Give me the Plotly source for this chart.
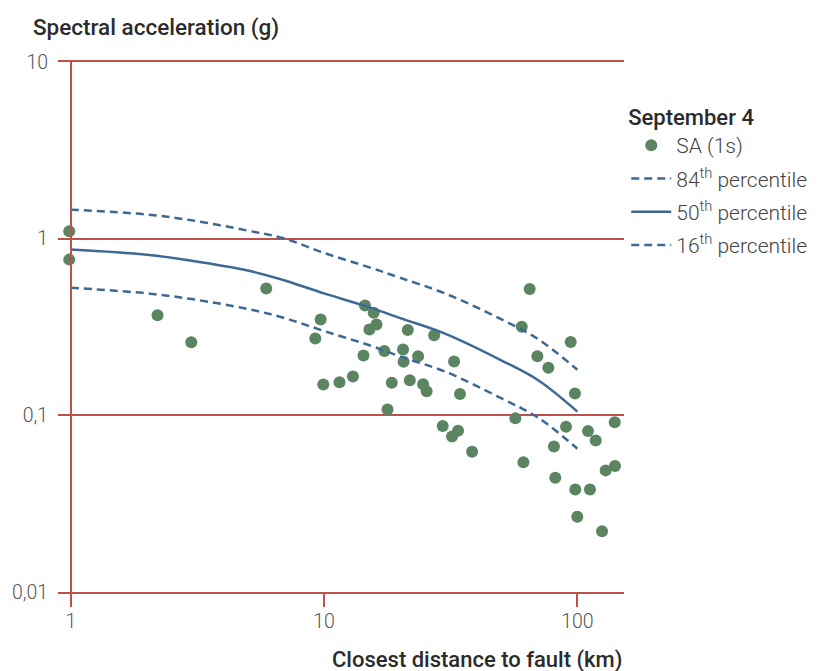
import plotly.graph_objects as go

# ---- data ----
obs_dist = [0.986, 0.986, 2.20, 2.99, 5.91,
            14.5, 15.7, 9.69, 16.1, 15.1, 9.23, 21.4, 27.2, 14.3, 17.3, 20.5, 20.6, 23.5, 32.6,
            9.93, 11.5, 13.0, 18.5, 21.8, 24.6, 25.4, 34.4, 17.8, 29.4, 33.8, 32.0, 38.4,
            64.8, 60.3, 94.1, 69.5, 76.8, 97.8, 56.9, 90.2, 110.1, 118.1, 140.4, 80.8, 61.2,
            129.3, 140.8, 81.8, 98.1, 112.1, 99.9, 125.1]
obs_sa = [1.10, 0.761, 0.369, 0.259, 0.523,
          0.419, 0.381, 0.349, 0.327, 0.306, 0.2725, 0.304, 0.284, 0.218, 0.231, 0.236, 0.201, 0.216, 0.202,
          0.1496, 0.154, 0.166, 0.153, 0.158, 0.150, 0.137, 0.132, 0.108, 0.0869, 0.0818, 0.076, 0.0622,
          0.5185, 0.3175, 0.260, 0.216, 0.186, 0.133, 0.0964, 0.0862, 0.0814, 0.0721, 0.0915, 0.0667, 0.0543,
          0.0488, 0.0516, 0.0443, 0.038, 0.038, 0.0267, 0.0221]

curve_dist = [1, 2, 3, 5, 7, 10, 15, 20, 30, 50, 70, 100]
p50 = [0.867, 0.81, 0.75, 0.66, 0.58, 0.49, 0.41, 0.355, 0.29, 0.205, 0.158, 0.105]
p84 = [1.46, 1.37, 1.27, 1.11, 1.00, 0.83, 0.69, 0.60, 0.49, 0.35, 0.27, 0.181]
p16 = [0.528, 0.49, 0.455, 0.40, 0.355, 0.30, 0.25, 0.215, 0.177, 0.125, 0.097, 0.0647]

y_tickvals = [0.01, 0.1, 1, 10]
y_ticktext = ["0,01", "0,1", "1", "10"]
x_tickvals = [1, 10, 100]
x_ticktext = ["1", "10", "100"]

GREEN = "#5b8561"
BLUE = "#3d6994"
RED = "#c0504d"
FONT = "Roboto"

fig = go.Figure()
fig.add_trace(go.Scatter(
    x=obs_dist, y=obs_sa, mode="markers", name="SA (1s)", legendgroup="a",
    marker=dict(color=GREEN, size=12, line=dict(width=0)), cliponaxis=False))
fig.add_trace(go.Scatter(
    x=curve_dist, y=p84, mode="lines", name="84<sup>th</sup> percentile", legendgroup="b",
    line=dict(color=BLUE, width=2.5, dash="8px,5px", shape="spline")))
fig.add_trace(go.Scatter(
    x=curve_dist, y=p50, mode="lines", name="50<sup>th</sup> percentile", legendgroup="c",
    line=dict(color=BLUE, width=2.5, shape="spline")))
fig.add_trace(go.Scatter(
    x=curve_dist, y=p16, mode="lines", name="16<sup>th</sup> percentile", legendgroup="d",
    line=dict(color=BLUE, width=2.5, dash="8px,5px", shape="spline")))

fig.update_layout(
    width=831, height=671,
    margin=dict(l=58, r=207, t=62, b=79, autoexpand=False),
    paper_bgcolor="white", plot_bgcolor="white",
    font=dict(family=FONT, color="#333333"),
    xaxis=dict(
        type="log", range=[-0.0505, 2.184], automargin=False,
        tickvals=x_tickvals, ticktext=x_ticktext,
        showgrid=False, zeroline=False,
        showline=True, linecolor=RED, linewidth=1.5, mirror=True,
        ticks="outside", ticklen=13, tickwidth=1.5, tickcolor=RED,
        ticklabelstandoff=-2,
        tickfont=dict(family=FONT, size=19.5, color="#555555", weight=300),
    ),
    yaxis=dict(
        type="log", range=[-2, 1], automargin=False,
        tickvals=y_tickvals, ticktext=y_ticktext,
        showgrid=True, gridcolor=RED, gridwidth=1.5, zeroline=False,
        anchor="free", position=0.0226,
        showline=True, linecolor=RED, linewidth=1.5,
        ticks="", ticklabelstandoff=18,
        tickfont=dict(family=FONT, size=19.5, color="#555555", weight=300),
    ),
    legend=dict(
        x=1.004, xanchor="left", y=0.935, yanchor="top",
        title=dict(text="September 4", font=dict(family=FONT, size=22, color="#2b2b2b", weight=500)),
        font=dict(family=FONT, size=21, color="#444444", weight=300),
        traceorder="grouped", tracegroupgap=3, itemwidth=40,
        bgcolor="rgba(0,0,0,0)",
    ),
    annotations=[
        dict(text="Spectral acceleration (g)", xref="paper", yref="paper",
             x=-0.048, y=1.066, xanchor="left", yanchor="middle", showarrow=False,
             font=dict(family=FONT, size=22.5, color="#2b2b2b", weight=500)),
        dict(text="Closest distance to fault (km)", xref="paper", yref="paper",
             x=1.0, y=-0.128, xanchor="right", yanchor="middle", showarrow=False,
             font=dict(family=FONT, size=22, color="#2b2b2b", weight=500)),
    ],
)

fig.write_html("out.html", config={"displayModeBar": False},
               post_script="document.body.style.margin='0';document.body.style.padding='0';")
